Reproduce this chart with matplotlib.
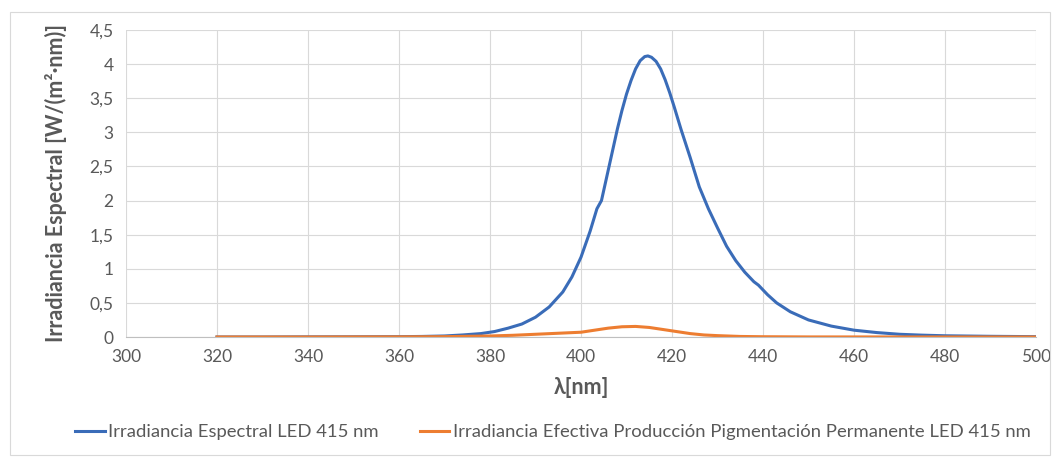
import matplotlib
matplotlib.use('Agg')
import matplotlib.pyplot as plt
from matplotlib.ticker import FuncFormatter, MultipleLocator
from matplotlib.patches import Rectangle

# Irradiancia espectral LED 415 nm
wl_blue = [320, 330, 340, 350, 360, 365, 370, 374, 378, 381, 384, 387, 390,
           393, 396, 398, 400, 402, 403.5, 404.5, 406, 408, 409, 410, 411,
           412, 413, 414, 414.7, 415.5, 416.5, 417.5, 418.5, 419.5, 420.5,
           422, 424, 426, 428, 430, 432, 434, 436, 438, 439, 441, 443, 446,
           450, 455, 460, 465, 470, 475, 480, 490, 500]
irr_blue = [0.0, 0.0, 0.002, 0.003, 0.005, 0.008, 0.015, 0.03, 0.05, 0.08,
            0.13, 0.19, 0.29, 0.44, 0.66, 0.88, 1.17, 1.55, 1.88, 2.0, 2.45,
            3.05, 3.32, 3.56, 3.76, 3.93, 4.05, 4.11, 4.12, 4.10, 4.04, 3.93,
            3.77, 3.58, 3.37, 3.04, 2.63, 2.2, 1.88, 1.6, 1.33, 1.12, 0.95,
            0.81, 0.76, 0.62, 0.5, 0.37, 0.25, 0.16, 0.1, 0.065, 0.04, 0.027,
            0.018, 0.01, 0.005]

# Irradiancia efectiva produccion pigmentacion permanente
wl_orange = [320, 340, 360, 370, 380, 385, 390, 395, 400, 403, 406, 409,
             412, 415, 418, 421, 424, 427, 430, 435, 440, 450, 500]
irr_orange = [0.0, 0.0, 0.002, 0.005, 0.015, 0.025, 0.04, 0.055, 0.07, 0.1,
              0.13, 0.15, 0.155, 0.14, 0.11, 0.08, 0.05, 0.03, 0.02, 0.008,
              0.004, 0.001, 0.0]

label_blue = 'Irradiancia Espectral LED 415 nm'
label_orange = 'Irradiancia Efectiva Producción Pigmentación Permanente LED 415 nm'

plt.rcParams['font.family'] = ['Lato', 'DejaVu Sans']

fig = plt.figure(figsize=(10.53, 4.62), dpi=100)
ax = fig.add_axes([126 / 1053, 1 - 337 / 462, 910 / 1053, 307 / 462])

# marco gris alrededor del grafico
fig.patches.append(Rectangle((10 / 1053, 7 / 462), 1040 / 1053, 443 / 462,
                             transform=fig.transFigure, fill=False,
                             edgecolor='#d9d9d9', linewidth=0.8))

ax.plot(wl_blue, irr_blue, color='#3a6cb8', linewidth=2.2, label=label_blue)
ax.plot(wl_orange, irr_orange, color='#ed7d31', linewidth=2.2, label=label_orange)

ax.set_xlim(300, 500)
ax.set_ylim(0, 4.5)
ax.xaxis.set_major_locator(MultipleLocator(20))
ax.yaxis.set_major_locator(MultipleLocator(0.5))

fmt = FuncFormatter(lambda v, p: ('%g' % v).replace('.', ','))
ax.yaxis.set_major_formatter(fmt)

ax.grid(True, color='#d9d9d9', linewidth=0.8)
ax.set_axisbelow(True)
for side in ['top', 'right', 'left']:
    ax.spines[side].set_visible(False)
ax.spines['bottom'].set_color('#bfbfbf')
ax.tick_params(length=0, labelsize=12.5, colors='#595959', pad=9)

ax.set_xlabel('λ[nm]', fontsize=15.5, fontweight='bold', color='#595959', labelpad=8)
ax.set_ylabel('Irradiancia Espectral [W/(m²·nm)]', fontsize=15.5,
              fontweight='bold', color='#595959', labelpad=16)

leg = fig.legend(loc='center', bbox_to_anchor=(0.525, 1 - 432 / 462), ncol=2,
                 frameon=False, fontsize=13.3, handlelength=1.6,
                 handletextpad=0.2, columnspacing=2.2)
for t in leg.get_texts():
    t.set_color('#595959')

plt.savefig('out.png', dpi=100)
plt.close()
